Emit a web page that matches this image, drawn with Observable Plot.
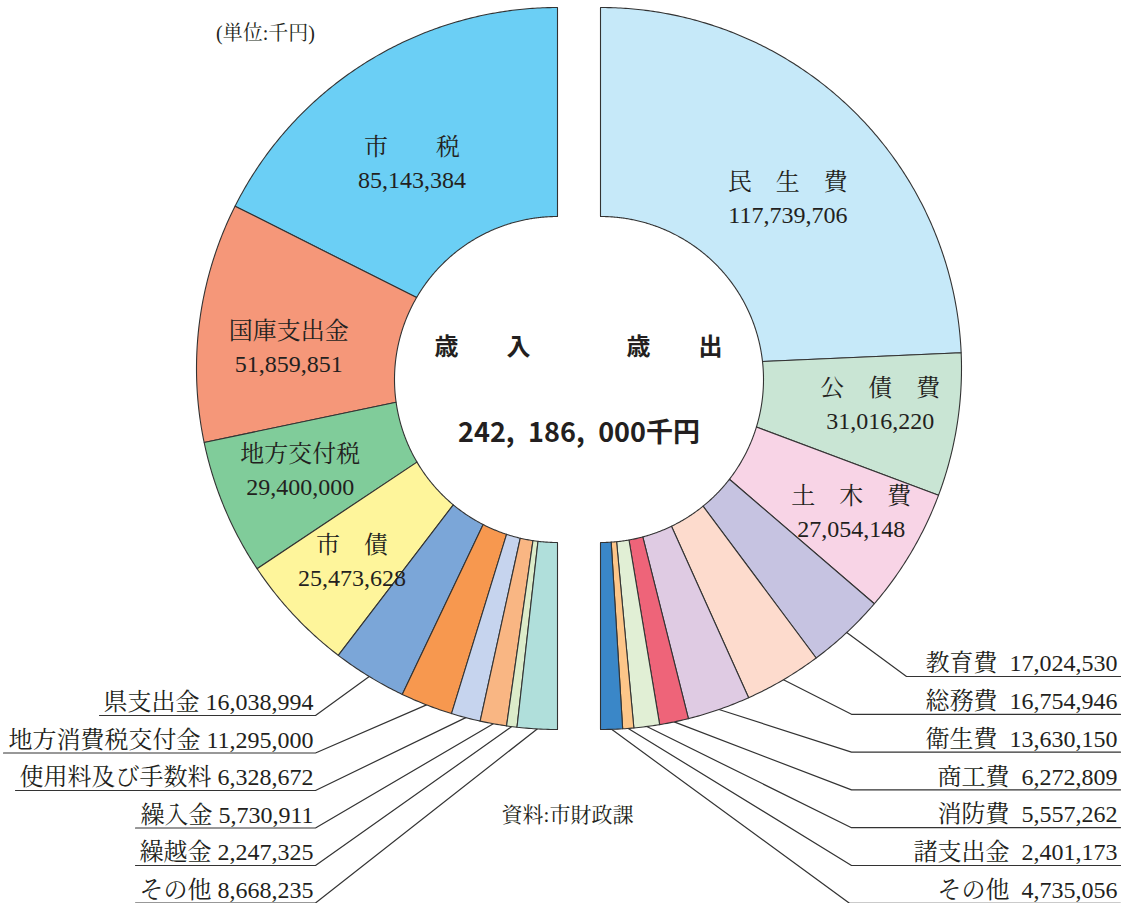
<!DOCTYPE html>
<html><head><meta charset="utf-8">
<script src="https://cdn.jsdelivr.net/npm/d3@7"></script>
<script src="https://cdn.jsdelivr.net/npm/@observablehq/plot@0.6"></script>
<style>html,body{margin:0;padding:0;background:#fff} svg{display:block}</style>
</head><body><div id="chart"></div>
<script>
// ---------- data ----------
const revenueNames  = ["市税","国庫支出金","地方交付税","市債","県支出金","地方消費税交付金","使用料及び手数料","繰入金","繰越金","その他"];
const revenueShown  = ["市　　税","国庫支出金","地方交付税","市　債"];
const revenueValues = [85143384,51859851,29400000,25473628,16038994,11295000,6328672,5730911,2247325,8668235];
const revenueColors = ["#6bcff5","#f59779","#80cc9a","#fef59b","#7ba6d8","#f7984f","#c6d4ee","#f9b683","#dcecca","#b0dfdb"];

const expenseNames  = ["民生費","公債費","土木費","教育費","総務費","衛生費","商工費","消防費","諸支出金","その他"];
const expenseShown  = ["民　生　費","公　債　費","土　木　費"];
const expenseValues = [117739706,31016220,27054148,17024530,16754946,13630150,6272809,5557262,2401173,4735056];
const expenseColors = ["#c6e9f9","#c9e5d4","#f8d4e6","#c6c3e1","#fddbcd","#dfcbe3","#ee6479","#e1efd5","#fdc689","#3a87c8"];

const centerTitles = ["歳　　入","歳　　出"];
const totalText = "242,\u2002186,\u2002000千円";
const unitText = "(単位:千円)";
const sourceText = "資料:市財政課";

// ---------- layout ----------
const W = 1121, H = 903;
const CX = {rev: 557, exp: 600};
const CY = 368, R = 361;      // outer circle
const CYI = 379, RI = 163;    // inner hole
const INK = "#231f20", EDGE = "#333";
const SERIF = "'Liberation Serif','Noto Serif CJK JP','Noto Sans CJK JP',serif";
const SANS = "'Noto Sans CJK JP','Noto Sans',sans-serif";
const fmt = d3.format(",");
// nudges of the inside labels from their polar anchor (layout only)
const revInsideNudge = [[-5, 10], [-3, 0], [-10, -15], [-10, -4]];
const expInsideNudge = [[2, 10], [15, -20], [20, -6]];

function pt(side, deg, rad, cy) {
  const s = side === "rev" ? -1 : 1, a = deg * Math.PI / 180;
  return [CX[side] + s * rad * Math.sin(a), cy - rad * Math.cos(a)];
}
function innerPt(side, deg) {
  const c = Math.cos(deg * Math.PI / 180), dy0 = CY - CYI;
  const vd = -dy0 * c;
  const t = -vd + Math.sqrt(vd * vd - dy0 * dy0 + RI * RI);
  return pt(side, deg, t, CY);
}

function build(side, names, values, colors) {
  const total = d3.sum(values);
  let acc = 0;
  return names.map((n, i) => {
    const a0 = acc / total * 180; acc += values[i];
    const a1 = acc / total * 180;
    return {side, key: side + i, name: n, value: values[i], color: colors[i], a0, a1, mid: (a0 + a1) / 2, i};
  });
}
const rev = build("rev", revenueNames, revenueValues, revenueColors);
const exp = build("exp", expenseNames, expenseValues, expenseColors);
const slices = rev.concat(exp);

// polygon points for each wedge
const wedgePts = [];
for (const s of slices) {
  const n = Math.max(2, Math.ceil((s.a1 - s.a0) / 0.4));
  const ring = [];
  for (let k = 0; k <= n; k++) ring.push(pt(s.side, s.a0 + (s.a1 - s.a0) * k / n, R, CY));
  for (let k = n; k >= 0; k--) ring.push(innerPt(s.side, s.a0 + (s.a1 - s.a0) * k / n));
  ring.push(ring[0]);
  ring.forEach(([x, y]) => wedgePts.push({key: s.key, color: s.color, x, y}));
}

// inside labels
const insideLabels = [];
rev.slice(0, 4).forEach((s, j) => insideLabels.push({s, text: revenueShown[j] + "\n" + fmt(s.value), nudge: revInsideNudge[j]}));
exp.slice(0, 3).forEach((s, j) => insideLabels.push({s, text: expenseShown[j] + "\n" + fmt(s.value), nudge: expInsideNudge[j]}));
insideLabels.forEach(d => {
  const [x, y] = pt(d.s.side, d.s.mid, 268, CYI);
  d.x = x + d.nudge[0]; d.y = y + d.nudge[1];
});

// outside labels + leaders
function estWidth(str, fs) {
  let w = 0;
  for (const ch of str) {
    if (/[0-9]/.test(ch)) w += 0.5 * fs;
    else if (ch === "," || ch === " ") w += 0.25 * fs;
    else if (ch === "\u2002") w += 0.5 * fs;
    else w += fs;
  }
  return w;
}
const FS = 24;
const outLabels = [], leaders = [];
rev.slice(4).forEach((s, j) => {
  const text = s.name + " " + fmt(s.value);
  const y = 702 + j * 37.5, uy = y + 13, xr = 313;
  outLabels.push({x: xr, y, text});
  const [ax, ay] = pt("rev", s.mid, R, CY);
  const x0 = xr - estWidth(text, FS) - 4;
  [[x0, uy], [315, uy], [ax, ay]].forEach(([x, yy]) => leaders.push({key: s.key, x, y: yy}));
});
const rightKnee = [906, 851, 851, 851, 851, 851, 849];
exp.slice(3).forEach((s, j) => {
  const text = s.name + "\u2002" + fmt(s.value);
  const y = 663 + j * 37.8, uy = y + 13, xr = 1117;
  outLabels.push({x: xr, y, text});
  const [ax, ay] = pt("exp", s.mid, R, CY);
  [[ax, ay], [rightKnee[j], uy], [1120, uy]].forEach(([x, yy]) => leaders.push({key: s.key, x, y: yy}));
});

const centerLabels = [
  {x: CX.rev - 75, y: CYI - 32, text: centerTitles[0], fs: 24},
  {x: CX.exp + 74, y: CYI - 32, text: centerTitles[1], fs: 24},
  {x: (CX.rev + CX.exp) / 2, y: CYI + 54, text: totalText, fs: 27}
];
const notes = [
  {x: 265, y: 33, text: unitText, fs: 20},
  {x: 567, y: 815, text: sourceText, fs: 21}
];

const chart = Plot.plot({
  width: W, height: H, margin: 0,
  x: {domain: [0, W], range: [0, W], axis: null},
  y: {domain: [0, H], range: [0, H], axis: null},
  color: {type: "identity"},
  style: {background: "#fff"},
  marks: [
    Plot.line(leaders, {x: "x", y: "y", z: "key", stroke: EDGE, strokeWidth: 1.2, curve: "linear"}),
    Plot.line(wedgePts, {x: "x", y: "y", z: "key", fill: "color", stroke: EDGE, strokeWidth: 1.1, strokeLinejoin: "round", curve: "linear"}),
    Plot.text(insideLabels, {x: "x", y: "y", text: "text", fontSize: 24, lineHeight: 1.38, fill: INK, fontFamily: SERIF}),
    Plot.text(outLabels, {x: "x", y: "y", text: "text", textAnchor: "end", fontSize: FS, fill: INK, fontFamily: SERIF}),
    Plot.text(centerLabels, {x: "x", y: "y", text: "text", fontSize: d => d.fs, fontWeight: "bold", fill: INK, fontFamily: SANS}),
    Plot.text(notes, {x: "x", y: "y", text: "text", fontSize: d => d.fs, fill: INK, fontFamily: SERIF})
  ]
});
document.getElementById("chart").appendChild(chart);
</script>
</body></html>
